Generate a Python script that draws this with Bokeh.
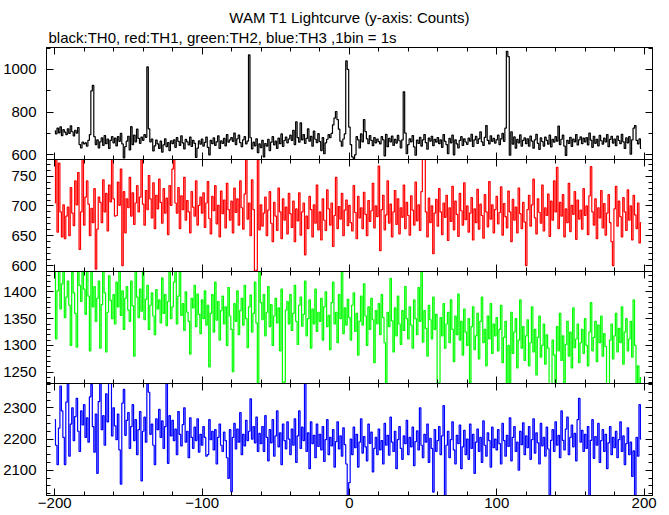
from bokeh.plotting import figure
from bokeh.layouts import column
from bokeh.models import Range1d, LinearAxis, FixedTicker, Title
from bokeh.embed import file_html
from bokeh.resources import INLINE

# ---------------- data ----------------
title_text = "WAM T1 Lightcurve (y-axis: Counts)"
subtitle_text = "black:TH0, red:TH1, green:TH2, blue:TH3 ,1bin = 1s"

time_start = -200   # s, first bin
bin_size = 1        # s

th0 = [712, 698, 725, 703, 731, 690, 718, 706, 694, 722, 700, 736, 708, 689, 715, 702, 728, 648, 632, 660,
       651, 656, 640, 668, 695, 900, 925, 685, 648, 670, 632, 661, 679, 644, 690, 652, 674, 630, 668, 685,
       656, 678, 642, 685, 663, 700, 651, 585, 638, 664, 687, 623, 732, 648, 692, 661, 720, 677, 654, 683,
       668, 695, 682, 1012, 722, 660, 674, 618, 642, 669, 651, 630, 664, 613, 647, 675, 638, 657, 620, 666,
       652, 670, 635, 681, 663, 644, 689, 656, 628, 672, 661, 647, 683, 639, 668, 654, 588, 631, 665, 650,
       674, 641, 658, 683, 635, 600, 668, 652, 679, 644, 661, 689, 630, 666, 653, 677, 642, 695, 659, 670,
       681, 663, 702, 648, 675, 692, 657, 638, 670, 685, 651, 664, 1068, 680, 628, 659, 642, 675, 610, 651,
       634, 668, 590, 653, 641, 672, 620, 659, 685, 647, 664, 630, 678, 652, 698, 639, 667, 683, 656, 674,
       692, 668, 715, 648, 755, 681, 659, 750, 670, 695, 653, 677, 722, 664, 686, 640, 711, 673, 657, 699,
       662, 620, 681, 605, 656, 673, 695, 680, 700, 740, 772, 803, 765, 720, 664, 640, 674, 698, 1040, 1000,
       730, 648, 590, 583, 600, 685, 670, 632, 698, 661, 765, 709, 675, 652, 690, 668, 643, 681, 656, 674,
       662, 651, 685, 670, 595, 696, 638, 677, 660, 688, 644, 673, 655, 691, 666, 632, 670, 895, 702, 605,
       648, 675, 661, 690, 637, 598, 669, 653, 682, 641, 670, 695, 657, 626, 678, 664, 687, 643, 672, 659,
       681, 652, 670, 635, 695, 663, 648, 605, 677, 656, 692, 600, 670, 651, 632, 668, 685, 644, 675, 660,
       649, 678, 664, 696, 639, 670, 686, 653, 675, 708, 661, 644, 682, 737, 668, 651, 689, 663, 677, 655,
       670, 692, 648, 675, 700, 663, 725, 1085, 1060, 598, 708, 650, 684, 631, 672, 656, 693, 640, 668, 679,
       652, 675, 640, 688, 664, 631, 670, 696, 654, 625, 679, 662, 641, 683, 668, 650, 692, 637, 673, 659,
       685, 664, 735, 648, 673, 692, 641, 597, 668, 653, 682, 639, 674, 661, 695, 646, 670, 684, 652, 678,
       660, 681, 647, 702, 669, 635, 687, 654, 673, 642, 691, 666, 650, 678, 660, 695, 638, 672, 687, 655,
       674, 643, 688, 667, 652, 696, 661, 630, 679, 656, 685, 603, 670, 725, 737, 668, 651, 675, 630]

th1 = [705, 785, 656, 772, 690, 648, 702, 645, 683, 698, 650, 731, 688, 667, 742, 702, 756, 627, 690, 788,
       668, 715, 742, 703, 650, 696, 672, 729, 594, 661, 715, 706, 672, 744, 690, 721, 658, 735, 707, 790,
       712, 683, 684, 740, 701, 762, 600, 724, 655, 712, 697, 748, 683, 722, 669, 705, 734, 690, 715, 785,
       703, 668, 726, 694, 751, 712, 680, 739, 662, 718, 695, 745, 706, 671, 729, 688, 713, 652, 734, 701,
       762, 786, 705, 688, 731, 662, 717, 694, 748, 676, 709, 690, 655, 724, 698, 683, 742, 668, 701, 715,
       688, 722, 664, 705, 741, 679, 653, 716, 692, 734, 670, 701, 648, 725, 687, 710, 663, 738, 694, 676,
       708, 655, 730, 689, 712, 668, 742, 697, 661, 720, 785, 678, 705, 650, 744, 694, 590, 592, 790, 660,
       702, 666, 688, 715, 650, 693, 724, 671, 640, 706, 683, 659, 730, 690, 645, 712, 676, 698, 653, 721,
       687, 664, 708, 640, 695, 675, 722, 651, 690, 705, 618, 683, 662, 716, 694, 648, 702, 671, 735, 660,
       690, 643, 712, 676, 659, 727, 695, 668, 705, 632, 684, 748, 662, 699, 678, 721, 650, 693, 710, 667,
       701, 672, 658, 734, 689, 645, 716, 680, 697, 662, 723, 686, 650, 709, 674, 692, 738, 663, 700, 682,
       767, 625, 694, 718, 660, 685, 742, 671, 703, 648, 690, 726, 669, 712, 653, 697, 681, 735, 662, 706,
       684, 651, 717, 693, 668, 740, 675, 702, 659, 724, 786, 780, 690, 648, 713, 672, 700, 620, 688, 711,
       666, 729, 690, 652, 705, 681, 718, 642, 697, 674, 733, 660, 708, 686, 649, 721, 692, 668, 739, 677,
       700, 656, 688, 714, 643, 695, 672, 728, 661, 703, 684, 646, 719, 690, 665, 741, 678, 702, 655, 694,
       716, 670, 689, 732, 651, 704, 682, 663, 725, 690, 640, 711, 676, 698, 655, 730, 687, 662, 706, 673,
       600, 694, 718, 666, 702, 745, 680, 653, 712, 689, 671, 735, 658, 697, 684, 720, 649, 708, 676, 742,
       690, 765, 662, 706, 683, 719, 648, 695, 672, 738, 657, 701, 686, 724, 644, 710, 678, 693, 661, 729,
       684, 700, 652, 717, 766, 690, 668, 712, 645, 697, 680, 726, 663, 704, 651, 688, 719, 672, 640, 600,
       695, 733, 666, 708, 682, 648, 714, 690, 659, 727, 676, 700, 643, 718, 685, 662, 705, 638, 672]

th2 = [1445, 1312, 1402, 1440, 1368, 1415, 1445, 1352, 1390, 1420, 1375, 1300, 1436, 1398, 1360, 1297, 1445, 1412, 1382, 1446,
       1405, 1358, 1440, 1392, 1290, 1446, 1372, 1410, 1345, 1388, 1420, 1295, 1376, 1445, 1398, 1288, 1362, 1430, 1384, 1350,
       1395, 1340, 1418, 1372, 1446, 1356, 1402, 1330, 1388, 1410, 1366, 1345, 1420, 1374, 1280, 1444, 1390, 1352, 1405, 1364,
       1440, 1348, 1386, 1412, 1330, 1375, 1398, 1355, 1320, 1404, 1368, 1385, 1342, 1426, 1360, 1395, 1337, 1382, 1441, 1350,
       1372, 1418, 1446, 1340, 1392, 1440, 1356, 1378, 1328, 1400, 1362, 1345, 1284, 1388, 1370, 1412, 1335, 1396, 1358, 1322,
       1385, 1350, 1402, 1338, 1375, 1260, 1360, 1395, 1325, 1418, 1347, 1382, 1310, 1365, 1392, 1340, 1372, 1300, 1408, 1355,
       1330, 1251, 1378, 1345, 1402, 1320, 1365, 1388, 1338, 1412, 1350, 1296, 1372, 1394, 1325, 1360, 1418, 1342, 1227, 1446,
       1380, 1348, 1395, 1318, 1362, 1410, 1335, 1376, 1300, 1355, 1388, 1342, 1370, 1290, 1405, 1227, 1232, 1366, 1382, 1340,
       1395, 1328, 1360, 1412, 1345, 1302, 1375, 1390, 1336, 1358, 1420, 1318, 1350, 1385, 1295, 1368, 1340, 1405, 1326, 1362,
       1345, 1388, 1310, 1372, 1400, 1335, 1356, 1292, 1380, 1418, 1340, 1362, 1305, 1395, 1350, 1442, 1322, 1370, 1338, 1386,
       1352, 1310, 1375, 1398, 1326, 1360, 1282, 1345, 1392, 1338, 1415, 1355, 1300, 1372, 1330, 1388, 1348, 1268, 1365, 1340,
       1378, 1320, 1395, 1352, 1305, 1229, 1362, 1335, 1425, 1346, 1288, 1370, 1318, 1392, 1340, 1302, 1365, 1328, 1410, 1350,
       1312, 1372, 1338, 1295, 1385, 1350, 1320, 1408, 1345, 1442, 1306, 1365, 1332, 1280, 1375, 1348, 1312, 1390, 1330, 1358,
       1227, 1230, 1352, 1318, 1378, 1295, 1340, 1362, 1305, 1385, 1330, 1270, 1355, 1320, 1396, 1310, 1345, 1282, 1368, 1325,
       1300, 1350, 1226, 1335, 1372, 1292, 1318, 1360, 1275, 1345, 1390, 1305, 1330, 1262, 1355, 1312, 1378, 1285, 1340, 1318,
       1352, 1290, 1330, 1375, 1268, 1315, 1345, 1228, 1300, 1226, 1362, 1285, 1325, 1350, 1258, 1310, 1385, 1295, 1335, 1272,
       1318, 1348, 1262, 1305, 1372, 1288, 1330, 1245, 1315, 1355, 1278, 1300, 1340, 1265, 1320, 1295, 1228, 1226, 1310, 1282,
       1227, 1335, 1290, 1360, 1272, 1318, 1229, 1302, 1345, 1280, 1325, 1258, 1370, 1296, 1312, 1340, 1268, 1305, 1330, 1285,
       1350, 1300, 1262, 1325, 1380, 1290, 1315, 1345, 1270, 1338, 1305, 1355, 1280, 1322, 1298, 1228, 1226, 1310, 1340, 1275,
       1318, 1360, 1288, 1332, 1305, 1372, 1265, 1325, 1350, 1290, 1312, 1345, 1278, 1385, 1300, 1228, 1262, 1226, 1240]

th3 = [2262, 2180, 2118, 2235, 2370, 2290, 2205, 2118, 2318, 2385, 2145, 2248, 2300, 2195, 2272, 2330, 2225, 2160, 2290, 2245,
       2310, 2205, 2268, 2190, 2335, 2375, 2240, 2158, 2280, 2090, 2320, 2385, 2230, 2275, 2180, 2345, 2255, 2390, 2385, 2210,
       2300, 2242, 2198, 2280, 2165, 2055, 2315, 2359, 2212, 2260, 2285, 2170, 2240, 2310, 2195, 2262, 2150, 2230, 2288, 2066,
       2225, 2270, 2190, 2385, 2350, 2215, 2248, 2180, 2118, 2265, 2230, 2295, 2205, 2258, 2170, 2240, 2390, 2122, 2275, 2210,
       2260, 2195, 2232, 2150, 2288, 2215, 2178, 2246, 2300, 2190, 2225, 2140, 2268, 2205, 2170, 2238, 2195, 2265, 2158, 2215,
       2180, 2240, 2205, 2145, 2150, 2262, 2198, 2225, 2165, 2230, 2120, 2205, 2248, 2180, 2160, 2222, 2195, 2140, 2074, 2230,
       2031, 2205, 2250, 2168, 2232, 2190, 2285, 2150, 2215, 2178, 2260, 2195, 2225, 2329, 2200, 2240, 2188, 2270, 2160, 2218,
       2185, 2240, 2160, 2275, 2205, 2130, 2230, 2188, 2262, 2145, 2210, 2290, 2175, 2220, 2118, 2248, 2195, 2168, 2255, 2200,
       2150, 2232, 2180, 2265, 2125, 2210, 2290, 2170, 2238, 2195, 2385, 2160, 2220, 2105, 2255, 2185, 2212, 2140, 2248, 2176,
       2215, 2165, 2240, 2128, 2198, 2262, 2150, 2205, 2178, 2230, 2110, 2192, 2255, 2168, 2210, 2145, 2236, 2182, 2120, 2015,
       2060, 2200, 2150, 2238, 2172, 2215, 2110, 2190, 2265, 2155, 2208, 2175, 2130, 2248, 2186, 2222, 2095, 2170, 2205, 2150,
       2232, 2165, 2195, 2120, 2250, 2180, 2212, 2148, 2270, 2190, 2160, 2225, 2105, 2198, 2240, 2170, 2135, 2210, 2185, 2260,
       2150, 2205, 2175, 2238, 2115, 2192, 2226, 2165, 2300, 2180, 2140, 2215, 2190, 2248, 2125, 2202, 2170, 2030, 2230, 2160,
       2195, 2240, 2150, 2210, 2307, 2015, 2180, 2225, 2140, 2198, 2255, 2165, 2120, 2212, 2185, 2245, 2105, 2175, 2228, 2150,
       2200, 2135, 2248, 2170, 2215, 2090, 2190, 2232, 2160, 2205, 2125, 2258, 2180, 2145, 2220, 2195, 2110, 2238, 2172, 2200,
       2165, 2230, 2185, 2120, 2250, 2195, 2145, 2212, 2176, 2268, 2130, 2205, 2240, 2160, 2190, 2100, 2225, 2182, 2252, 2150,
       2210, 2172, 2240, 2135, 2198, 2265, 2155, 2220, 2188, 2120, 2250, 2178, 2205, 2145, 2238, 2168, 2015, 2196, 2230, 2160,
       2255, 2180, 2212, 2140, 2290, 2196, 2165, 2232, 2270, 2150, 2205, 2245, 2175, 2218, 2130, 2262, 2330, 2190, 2228, 2160,
       2215, 2170, 2240, 2015, 2196, 2262, 2138, 2208, 2180, 2250, 2125, 2195, 2230, 2160, 2215, 2105, 2188, 2240, 2150, 2205,
       2172, 2225, 2140, 2198, 2255, 2160, 2210, 2118, 2185, 2236, 2150, 2190, 2080, 2162, 2015, 2205, 2145, 2310, 2200]

series = [th0, th1, th2, th3]
colors = ["#000000", "#ff0000", "#00ff00", "#0000ff"]

x_ticks_major = [-200, -100, 0, 100, 200]
x_ticks_minor = list(range(-200, 201, 20))
x_tick_labels = {-200: "\u2212200", -100: "\u2212100", 0: "0", 100: "100", 200: "200"}

y_limits = [(578, 1103), (590, 778), (1229, 1438), (2019, 2378)]
y_ticks_major = [[600, 800, 1000], [600, 650, 700, 750], [1250, 1300, 1350, 1400], [2100, 2200, 2300]]
y_ticks_minor = [[600, 700, 800, 900, 1000, 1100],
                 list(range(590, 780, 10)),
                 list(range(1230, 1440, 10)),
                 list(range(2025, 2376, 25))]

# ---------------- layout ----------------
FONT = "Liberation Sans"
frame_w = 606
frame_h = [112, 112, 112, 112]
x_lim = (-205.6, 205.7)
OVER = 9   # px of a panel's bottom border that the next panel overlaps


def add_axis(p, side, ticker, labels, overrides=None):
    ax = LinearAxis(ticker=ticker)
    ax.axis_line_color = "black"
    ax.axis_line_width = 1
    ax.major_tick_in = 7
    ax.major_tick_out = 0
    ax.minor_tick_in = 4
    ax.minor_tick_out = 0
    ax.major_tick_line_color = "black"
    ax.minor_tick_line_color = "black"
    if labels:
        ax.major_label_text_font = FONT
        ax.major_label_text_font_size = "15px"
        ax.major_label_text_color = "black"
        ax.major_label_standoff = 10 if side == "left" else 2
        if overrides:
            ax.major_label_overrides = overrides
    else:
        ax.major_label_text_font_size = "0px"
        ax.major_label_text_color = None
        ax.major_label_standoff = 0
    p.add_layout(ax, side)
    return ax


panels = []
for i, ys in enumerate(series):
    xs = [time_start + k * bin_size for k in range(len(ys))]
    last = (i == 3)
    p = figure(frame_width=frame_w, frame_height=frame_h[i],
               x_range=Range1d(*x_lim), y_range=Range1d(*y_limits[i]),
               output_backend="svg", toolbar_location=None,
               x_axis_location=None, y_axis_location=None,
               min_border_left=45, min_border_right=10,
               min_border_top=47 if i == 0 else 0,
               min_border_bottom=0 if last else OVER)
    p.background_fill_color = "white"
    p.border_fill_color = "white"
    if i > 0:
        # let the previous panel's bottom border (with its lowest tick label) show through
        p.background_fill_alpha = 0
        p.border_fill_alpha = 0
        p.margin = (-OVER, 0, 0, 0)
    p.outline_line_color = "black"
    p.outline_line_width = 1
    p.xgrid.visible = False
    p.ygrid.visible = False

    xt = FixedTicker(ticks=x_ticks_major, minor_ticks=x_ticks_minor)
    yt = FixedTicker(ticks=y_ticks_major[i], minor_ticks=y_ticks_minor[i])

    add_axis(p, "left", yt, True)
    add_axis(p, "right", yt, False)
    add_axis(p, "above", xt, False)
    add_axis(p, "below", xt, last, x_tick_labels)

    if i == 0:
        p.add_layout(Title(text=subtitle_text, align="left", offset=2, standoff=3,
                           text_font=FONT, text_font_size="15px",
                           text_font_style="normal", text_color="black"), "above")
        p.add_layout(Title(text=title_text, align="center", offset=5, standoff=0,
                           text_font=FONT, text_font_size="15px",
                           text_font_style="normal", text_color="black"), "above")

    p.step(xs, ys, mode="center", line_color=colors[i], line_width=1.2)
    panels.append(p)

layout = column(*panels, spacing=0)

open("out.html", "w").write(file_html(layout, INLINE))
